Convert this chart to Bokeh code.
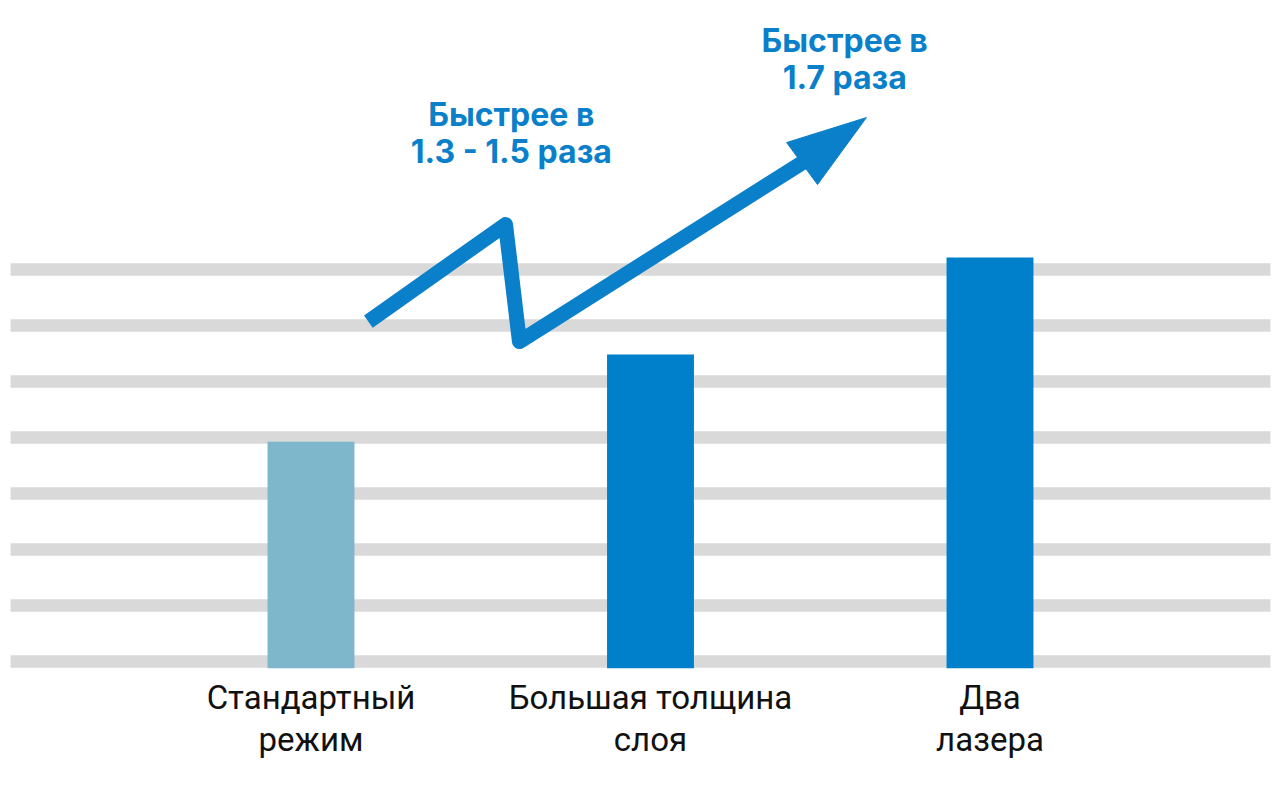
from bokeh.plotting import figure
from bokeh.models import FixedTicker, ColumnDataSource, Range1d
from bokeh.core.properties import value
from bokeh.embed import file_html
from bokeh.resources import INLINE

# ---- data ----
categories = ["Стандартный\nрежим", "Большая толщина\nслоя", "Два\nлазера"]
speed = [4.05, 5.61, 7.34]          # relative print speed (grid units)
bar_colors = ["#7EB6CB", "#0080CA", "#0080CA"]
grid_levels = [0.125 + k for k in range(8)]
notes = ["Быстрее в\n1.3 - 1.5 раза", "Быстрее в\n1.7 раза"]

# arrow path (annotation, data units)
arrow_x = [0.169, 0.573, 0.614, 1.457]
arrow_y = [6.196, 7.929, 5.839, 9.071]
head_x = [1.636, 1.401, 1.492]
head_y = [9.839, 9.393, 8.643]
note_x = [0.590, 1.572]
note_y = [10.24, 11.57]

BLUE = "#0A7FCA"

idx = list(range(len(categories)))
p = figure(width=1280, height=787, output_backend="svg", toolbar_location=None,
           x_range=Range1d(-0.9146, 2.8557), y_range=Range1d(0, 11.93),
           min_border_left=0, min_border_right=0, min_border_top=0,
           min_border_bottom=119)
p.outline_line_color = None
p.background_fill_color = "white"
p.border_fill_color = "white"
p.xgrid.visible = False
p.ygrid.visible = False
p.yaxis.visible = False

# thick grey guide lines
p.segment(x0=-0.885, x1=2.826, y0=grid_levels, y1=grid_levels,
          line_color="#D9D9D9", line_width=12.5, line_cap="butt")

src = ColumnDataSource(dict(x=idx, top=speed, color=bar_colors))
p.vbar(x="x", top="top", bottom=0, width=0.256, fill_color="color",
       line_color=None, source=src)

# zig-zag arrow
p.line(arrow_x, arrow_y, line_color=BLUE, line_width=15,
       line_join="round", line_cap="butt")
p.patch(head_x, head_y, fill_color=BLUE, line_color=BLUE, line_width=1)

p.text(x=note_x, y=note_y, text=notes, text_align="center", text_baseline="top",
       text_font=value("Inter"), text_font_style="bold", text_font_size="32px",
       text_color=BLUE, text_line_height=0.95)

ax = p.xaxis[0]
ax.ticker = FixedTicker(ticks=idx)
ax.major_label_overrides = {i: c for i, c in zip(idx, categories)}
ax.axis_line_color = None
ax.major_tick_line_color = None
ax.minor_tick_line_color = None
ax.major_label_standoff = 3
ax.major_label_text_font = "Roboto"
ax.major_label_text_font_size = "33px"
ax.major_label_text_line_height = 1.1
ax.major_label_text_color = "#111111"

open("out.html", "w").write(file_html(p, INLINE))
